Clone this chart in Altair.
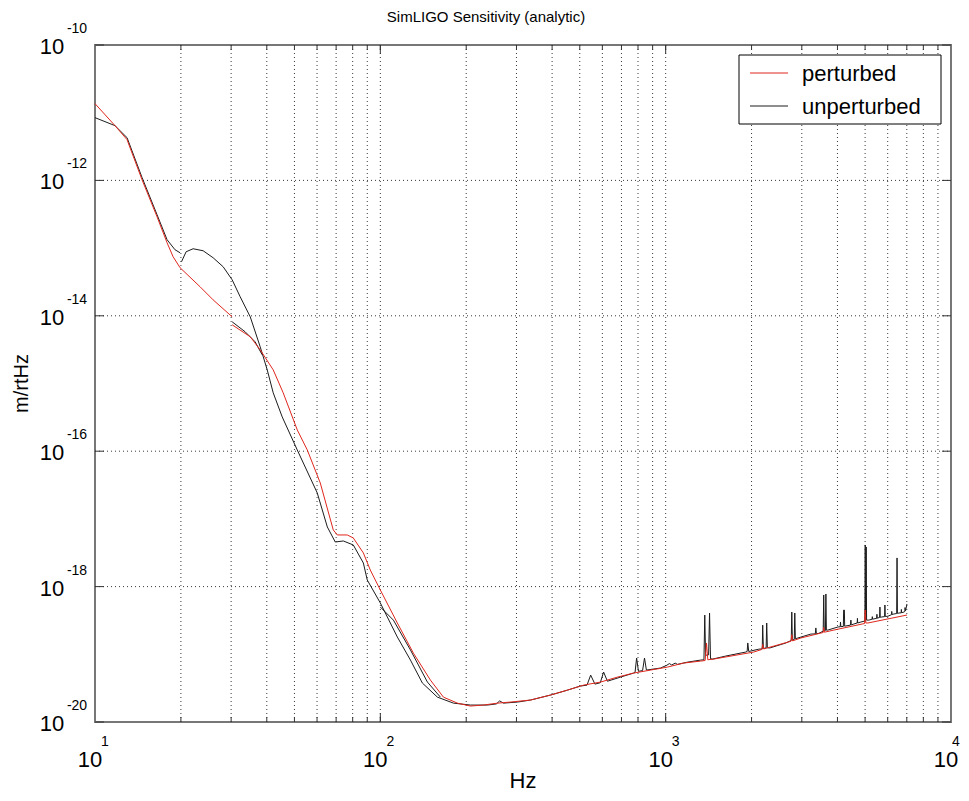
import altair as alt
import pandas as pd

FONT = "Liberation Sans, Arial, Helvetica, sans-serif"

# ---------------- data ----------------
# perturbed curve, segment 10-30 Hz
PERT_LOW = [(10, 1.36e-11), (11.75, 6.44e-12), (12.95, 4.0e-12), (14.62, 1.02e-12),
            (16.5, 2.9e-13), (17.89, 1.2e-13), (18.78, 7.45e-14), (19.87, 5.13e-14),
            (23.36, 2.68e-14), (25.94, 1.72e-14), (30.25, 9.66e-15)]
# perturbed curve, segment 30 Hz - 7 kHz
PERT_MAIN = [(30.25, 7.36e-15), (35.0, 4.9e-15), (37.93, 3.14e-15), (42.13, 1.59e-15),
             (45.66, 7.28e-16), (51.14, 2.07e-16), (55.45, 1.045e-16), (61.58, 3.4e-17),
             (68.4, 6.87e-18), (70.65, 5.79e-18), (76.6, 5.79e-18), (80.4, 5.23e-18),
             (87.2, 3.14e-18), (92.2, 1.76e-18), (100, 8.9e-19), (114.7, 2.9e-19),
             (130.6, 1.04e-19), (149.8, 4.16e-20), (166.4, 2.33e-20), (186.3, 1.9e-20),
             (206.9, 1.72e-20), (229.8, 1.78e-20), (257.4, 1.9e-20), (285.8, 1.97e-20),
             (336, 2.11e-20), (395, 2.5e-20), (453, 2.96e-20), (516, 3.51e-20),
             (591.5, 3.89e-20), (678.5, 4.61e-20), (772, 5.28e-20), (886, 5.85e-20),
             (1016, 6.48e-20), (1157, 7.43e-20), (1327, 7.94e-20), (1375, 8.1e-20),
             (1390, 1.47e-19), (1405, 8.3e-20), (1473, 8.5e-20), (2036, 1.08e-19),
             (2175, 1.18e-19), (2188, 1.4e-19), (2205, 1.2e-19), (2750, 1.56e-19),
             (2767, 1.95e-19), (2785, 1.58e-19), (2977, 1.74e-19), (3565, 2.1e-19),
             (3580, 2.5e-19), (3600, 2.12e-19), (3886, 2.28e-19), (4980, 2.85e-19),
             (5005, 4.5e-19), (5030, 2.9e-19), (5114, 2.9e-19), (7007, 3.8e-19)]

# unperturbed curve, segment 10-20 Hz
UNP_LOW = [(10, 8.45e-12), (11.75, 6.44e-12), (12.95, 4.28e-12), (14.62, 1.1e-12),
           (16.5, 3.11e-13), (17.89, 1.33e-13), (19.07, 9.46e-14), (19.87, 8.53e-14)]
# unperturbed curve, short segment starting at 30 Hz
UNP_30 = [(30.25, 8.15e-15), (33.6, 5.8e-15), (36.4, 4.13e-15), (38.55, 2.65e-15)]
# unperturbed curve, short segment starting at 100 Hz
UNP_100 = [(100, 4.99e-19), (111.1, 3.2e-19), (127.5, 1.16e-19), (146.2, 3.89e-20),
           (162.4, 2.33e-20)]
# unperturbed curve, segment 20 Hz - 7 kHz
UNP_MAIN = [(20.1, 6.28e-14), (20.86, 8.83e-14), (22.07, 9.78e-14), (23.93, 9.14e-14),
            (25.94, 7.2e-14), (28.13, 5.3e-14), (30.25, 3.4e-14), (32.27, 1.91e-14),
            (35.0, 9.66e-15), (37.93, 3.48e-15), (40.14, 1.59e-15), (42.13, 7.28e-16),
            (45.3, 3.21e-16), (51.14, 1.045e-16), (60.1, 2.42e-17), (65.2, 7.6e-18),
            (69.5, 4.56e-18), (74.2, 4.72e-18), (80.4, 4.12e-18), (87.2, 2.23e-18),
            (90.0, 1.25e-18), (100, 5.73e-19), (114.7, 1.8e-19), (127.5, 8.22e-20),
            (140.4, 3.76e-20), (158.5, 2.33e-20), (180.4, 1.9e-20), (206.9, 1.78e-20),
            (237.4, 1.78e-20), (255, 1.85e-20), (262, 2.05e-20), (270, 1.9e-20),
            (302.5, 1.97e-20), (336, 2.11e-20), (395, 2.5e-20), (453, 2.96e-20),
            (503, 3.4e-20), (530, 3.5e-20), (546, 4.93e-20), (565, 3.63e-20),
            (590, 3.8e-20), (606, 5.47e-20), (625, 4.0e-20), (695, 4.61e-20),
            (772, 5.28e-20), (781, 5.4e-20), (791, 8.81e-20), (803, 5.6e-20),
            (830, 5.75e-20), (843, 8.81e-20), (856, 5.85e-20), (960, 6.27e-20),
            (1010, 6.9e-20), (1030, 7.3e-20), (1050, 6.95e-20), (1080, 7.4e-20),
            (1100, 7.1e-20), (1195, 7.67e-20), (1327, 8.22e-20), (1362, 8.3e-20),
            (1371, 3.8e-19), (1380, 9.5e-20), (1393, 9.75e-20), (1414, 9.8e-20),
            (1425, 4.07e-19), (1436, 8.6e-20), (1462, 8.5e-20), (1624, 9.42e-20),
            (1909, 1.08e-19), (1930, 1.1e-19), (1940, 1.47e-19), (1955, 1.1e-19),
            (2120, 1.19e-19), (2180, 1.2e-19), (2188, 2.7e-19), (2200, 1.22e-19),
            (2250, 1.24e-19), (2260, 2.9e-19), (2272, 1.25e-19), (2317, 1.24e-19),
            (2637, 1.47e-19), (2755, 1.6e-19), (2767, 4.21e-19), (2780, 1.62e-19),
            (2823, 1.66e-19), (2835, 4.07e-19), (2848, 1.7e-19), (2905, 1.74e-19),
            (3227, 1.99e-19), (3345, 2.0e-19), (3360, 2.45e-19), (3375, 2.02e-19),
            (3443, 2.04e-19), (3565, 2.2e-19), (3580, 7.52e-19), (3595, 2.22e-19),
            (3630, 2.25e-19), (3644, 7.78e-19), (3658, 2.27e-19), (3703, 2.28e-19),
            (4013, 2.53e-19), (4090, 2.55e-19), (4100, 3.0e-19), (4110, 2.56e-19),
            (4195, 2.58e-19), (4205, 4.5e-19), (4230, 4.5e-19), (4240, 2.6e-19),
            (4281, 2.62e-19), (4445, 2.7e-19), (4458, 3.2e-19), (4470, 2.72e-19),
            (4567, 2.8e-19), (4690, 2.9e-19), (4700, 3.4e-19), (4710, 2.9e-19),
            (4834, 3.0e-19), (4990, 3.1e-19), (5005, 4.12e-18), (5020, 3.2e-19),
            (5030, 3.2e-19), (5045, 3.85e-18), (5060, 3.2e-19), (5155, 3.2e-19),
            (5290, 3.3e-19), (5300, 3.6e-19), (5310, 3.3e-19), (5490, 3.4e-19),
            (5500, 3.9e-19), (5510, 3.42e-19), (5620, 3.5e-19), (5635, 4.99e-19),
            (5650, 3.52e-19), (5727, 3.56e-19), (5850, 3.6e-19), (5867, 5.35e-19),
            (5885, 3.62e-19), (6011, 3.65e-19), (6190, 3.85e-19), (6200, 4.3e-19),
            (6210, 3.88e-19), (6310, 3.94e-19), (6450, 4.0e-19), (6470, 2.65e-18),
            (6490, 4.02e-19), (6570, 4.07e-19), (6690, 4.1e-19), (6700, 4.6e-19),
            (6710, 4.12e-19), (6842, 4.21e-19), (6890, 4.3e-19), (6900, 4.9e-19),
            (6930, 4.4e-19), (7007, 5.53e-19)]

SERIES = ["perturbed", "unperturbed"]
COLORS = ["#e0261c", "#1c1c1c"]

X_GRID = [20, 30, 40, 50, 60, 70, 80, 90, 100, 200, 300, 400, 500, 600, 700, 800, 900,
          1000, 2000, 3000, 4000, 5000, 6000, 7000, 8000, 9000]
X_MAJOR = [100, 1000]
Y_GRID = [1e-12, 1e-14, 1e-16, 1e-18]
X_LABEL_F = [10, 100, 1000, 10000]
X_LABEL_EXP = ["1", "2", "3", "4"]
Y_LABEL_A = [1e-10, 1e-12, 1e-14, 1e-16, 1e-18, 1e-20]
Y_LABEL_EXP = ["-10", "-12", "-14", "-16", "-18", "-20"]

TITLE = "SimLIGO Sensitivity (analytic)"
X_TITLE = "Hz"
Y_TITLE = "m/rtHz"

W, H = 856, 677

# ---------------- build tables ----------------
def seg_df(points, series, seg):
    return pd.DataFrame({"f": [p[0] for p in points], "a": [p[1] for p in points],
                         "series": series, "seg": seg, "i": range(len(points))})

pert = pd.concat([seg_df(PERT_LOW, SERIES[0], "p1"), seg_df(PERT_MAIN, SERIES[0], "p2")])
unp = pd.concat([seg_df(UNP_LOW, SERIES[1], "u1"), seg_df(UNP_MAIN, SERIES[1], "u2"),
                 seg_df(UNP_30, SERIES[1], "u3"), seg_df(UNP_100, SERIES[1], "u4")])

xscale = alt.Scale(type="log", domain=[10, 10000], nice=False)
yscale = alt.Scale(type="log", domain=[1e-20, 1e-10], nice=False)


def line_layer(df, color):
    return alt.Chart(df).mark_line(strokeWidth=1, color=color, interpolate="linear").encode(
        x=alt.X("f:Q", scale=xscale, axis=None),
        y=alt.Y("a:Q", scale=yscale, axis=None),
        detail="seg:N",
        order="i:Q",
    )


unp_line = line_layer(unp, COLORS[1])
pert_line = line_layer(pert, COLORS[0])

# dotted grid
grid_style = dict(color="#3a3a3a", strokeWidth=1, strokeDash=[1, 3])
xgrid = alt.Chart(pd.DataFrame({"f": X_GRID})).mark_rule(**grid_style).encode(
    x=alt.X("f:Q", scale=xscale, axis=None), y=alt.value(0), y2=alt.value(H))
ygrid = alt.Chart(pd.DataFrame({"a": Y_GRID})).mark_rule(**grid_style).encode(
    y=alt.Y("a:Q", scale=yscale, axis=None), x=alt.value(0), x2=alt.value(W))

# ticks (inward) on all four sides
xt = pd.DataFrame({"f": X_GRID})
xmaj = pd.DataFrame({"f": X_MAJOR})
yt = pd.DataFrame({"a": Y_LABEL_A})
tick_style = dict(color="#333333", strokeWidth=1)
xtick_b = alt.Chart(xt).mark_rule(**tick_style).encode(
    x=alt.X("f:Q", scale=xscale, axis=None), y=alt.value(H), y2=alt.value(H - 5))
xtick_t = alt.Chart(xt).mark_rule(**tick_style).encode(
    x=alt.X("f:Q", scale=xscale, axis=None), y=alt.value(0), y2=alt.value(5))
xmaj_b = alt.Chart(xmaj).mark_rule(**tick_style).encode(
    x=alt.X("f:Q", scale=xscale, axis=None), y=alt.value(H), y2=alt.value(H - 9))
xmaj_t = alt.Chart(xmaj).mark_rule(**tick_style).encode(
    x=alt.X("f:Q", scale=xscale, axis=None), y=alt.value(0), y2=alt.value(9))
ytick_l = alt.Chart(yt).mark_rule(**tick_style).encode(
    y=alt.Y("a:Q", scale=yscale, axis=None), x=alt.value(0), x2=alt.value(9))
ytick_r = alt.Chart(yt).mark_rule(**tick_style).encode(
    y=alt.Y("a:Q", scale=yscale, axis=None), x=alt.value(W - 9), x2=alt.value(W))

# tick labels: "10" with raised exponent
xl = pd.DataFrame({"f": X_LABEL_F, "e": X_LABEL_EXP})
yl = pd.DataFrame({"a": Y_LABEL_A, "e": Y_LABEL_EXP})
xl_base = alt.Chart(xl).mark_text(font=FONT, fontSize=22, align="center", baseline="middle",
                                  dx=-5, color="black").encode(
    x=alt.X("f:Q", scale=xscale, axis=None), y=alt.value(H + 38), text=alt.value("10"))
xl_exp = alt.Chart(xl).transform_filter(alt.datum.f < 5000).mark_text(
    font=FONT, fontSize=14, align="center", baseline="middle", dx=10, color="black").encode(
    x=alt.X("f:Q", scale=xscale, axis=None), y=alt.value(H + 20), text="e:N")
xl_exp_last = alt.Chart(xl).transform_filter(alt.datum.f > 5000).mark_text(
    font=FONT, fontSize=14, align="center", baseline="middle", dx=5, color="black").encode(
    x=alt.X("f:Q", scale=xscale, axis=None), y=alt.value(H + 20), text="e:N")
yl_base = alt.Chart(yl).mark_text(font=FONT, fontSize=22, align="center", baseline="middle",
                                  dy=2, color="black").encode(
    y=alt.Y("a:Q", scale=yscale, axis=None), x=alt.value(-43), text=alt.value("10"))
yl_exp = alt.Chart(yl).mark_text(font=FONT, fontSize=14, align="center", baseline="middle",
                                 dy=-16, color="black").encode(
    y=alt.Y("a:Q", scale=yscale, axis=None), x=alt.value(-18), text="e:N")

# titles
one = pd.DataFrame({"k": [0]})
title = alt.Chart(one).mark_text(font=FONT, fontSize=15, align="center", baseline="middle",
                                 color="black").encode(
    x=alt.value(391), y=alt.value(-28), text=alt.value(TITLE))
xtitle = alt.Chart(one).mark_text(font=FONT, fontSize=22, align="center", baseline="middle",
                                  color="black").encode(
    x=alt.value(W / 2), y=alt.value(H + 59), text=alt.value(X_TITLE))
ytitle = alt.Chart(one).mark_text(font=FONT, fontSize=20, align="center", baseline="middle",
                                  angle=270, color="black").encode(
    x=alt.value(-73), y=alt.value(H / 2), text=alt.value(Y_TITLE))

# legend
leg_box = alt.Chart(one).mark_rect(fill="white", stroke="black", strokeWidth=1).encode(
    x=alt.value(644), x2=alt.value(846), y=alt.value(10), y2=alt.value(79))
leg_layers = [leg_box]
for k, (lab, col) in enumerate(zip(SERIES, COLORS)):
    yy = 28 + 33 * k
    leg_layers.append(alt.Chart(one).mark_rule(color=col, strokeWidth=1).encode(
        x=alt.value(655), x2=alt.value(693), y=alt.value(yy)))
    leg_layers.append(alt.Chart(one).mark_text(font=FONT, fontSize=22, align="left",
                                               baseline="middle", color="black").encode(
        x=alt.value(707), y=alt.value(yy + 1), text=alt.value(lab)))

chart = alt.layer(
    xgrid, ygrid,
    unp_line, pert_line,
    xtick_b, xtick_t, xmaj_b, xmaj_t, ytick_l, ytick_r,
    xl_base, xl_exp, xl_exp_last, yl_base, yl_exp,
    title, xtitle, ytitle,
    *leg_layers,
).properties(
    width=W, height=H,
    autosize=alt.AutoSizeParams(type="none"),
    padding={"left": 87, "top": 37, "right": 10, "bottom": 71},
).configure_view(
    stroke="#777777", strokeWidth=2
)

chart.save("out.html", embed_options={"renderer": "svg", "actions": False})
